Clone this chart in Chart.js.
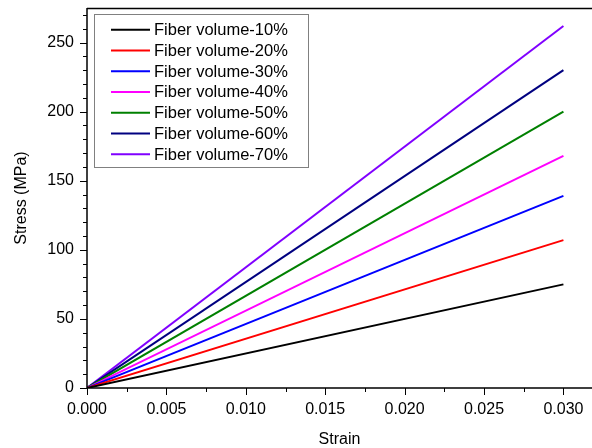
<!DOCTYPE html>
<html>
<head>
<meta charset="utf-8">
<script src="https://cdn.jsdelivr.net/npm/chart.js@4.4.0/dist/chart.umd.min.js"></script>
<style>
  html, body { margin: 0; padding: 0; background: #fff; }
  #wrap { width: 592px; height: 448px; }
</style>
</head>
<body>
<div id="wrap"><canvas id="stressChart"></canvas></div>
<script>
// strain end points, shared by all series
const strain = [0, 0.030];

// stress (MPa) at each strain point, per fibre volume fraction
const vf10 = [0, 75];
const vf20 = [0, 107];
const vf30 = [0, 139];
const vf40 = [0, 168];
const vf50 = [0, 200];
const vf60 = [0, 230];
const vf70 = [0, 262];

const seriesLabels = [
  'Fiber volume-10%', 'Fiber volume-20%', 'Fiber volume-30%', 'Fiber volume-40%',
  'Fiber volume-50%', 'Fiber volume-60%', 'Fiber volume-70%'
];
const seriesColors = ['#000000', '#ff0000', '#0000ff', '#ff00ff', '#008000', '#000080', '#8000ff'];

// axis ticks
const xTicks = [0, 0.005, 0.010, 0.015, 0.020, 0.025, 0.030];
const yTicks = [0, 50, 100, 150, 200, 250];
const xMinorStep = 0.0025;
const yMinorStep = 10;

const FONT = 'Arial, "Liberation Sans", sans-serif';

const seriesValues = [vf10, vf20, vf30, vf40, vf50, vf60, vf70];

const datasets = seriesValues.map((vals, i) => ({
  label: seriesLabels[i],
  data: strain.map((s, j) => ({ x: s, y: vals[j] })),
  borderColor: seriesColors[i],
  backgroundColor: seriesColors[i],
  borderWidth: 2,
  pointRadius: 0,
  fill: false,
  tension: 0
}));

// axis lines, outward ticks (major + minor) and top frame line
const axisFrame = {
  id: 'axisFrame',
  afterDraw(chart) {
    const { ctx, chartArea: a, scales: { x, y } } = chart;
    ctx.save();
    ctx.strokeStyle = '#000';
    ctx.lineWidth = 1.5;
    ctx.beginPath();
    ctx.moveTo(a.left, a.top + 0.5);
    ctx.lineTo(a.right, a.top + 0.5);
    ctx.moveTo(a.left, a.top);
    ctx.lineTo(a.left, a.bottom);
    ctx.lineTo(a.right, a.bottom);
    ctx.stroke();

    ctx.lineWidth = 1;
    ctx.beginPath();
    for (let v = 0; v <= x.max + 1e-9; v += xMinorStep) {
      const px = Math.round(x.getPixelForValue(v)) + 0.5;
      const major = Math.abs(v / 0.005 - Math.round(v / 0.005)) < 1e-6;
      ctx.moveTo(px, a.bottom);
      ctx.lineTo(px, a.bottom + (major ? 7 : 4));
    }
    for (let v = 0; v <= y.max + 1e-9; v += yMinorStep) {
      const py = Math.round(y.getPixelForValue(v)) + 0.5;
      const major = v % 50 === 0;
      ctx.moveTo(a.left, py);
      ctx.lineTo(a.left - (major ? 7 : 4), py);
    }
    ctx.stroke();
    ctx.restore();
  }
};

// boxed legend inside the plot area
const boxLegend = {
  id: 'boxLegend',
  afterDraw(chart) {
    const { ctx } = chart;
    ctx.save();
    ctx.fillStyle = '#fff';
    ctx.fillRect(94.5, 14.5, 214, 153);
    ctx.strokeStyle = '#808080';
    ctx.lineWidth = 1;
    ctx.strokeRect(94.5, 14.5, 214, 153);
    ctx.font = '16.5px ' + FONT;
    ctx.textBaseline = 'middle';
    ctx.fillStyle = '#000';
    chart.data.datasets.forEach((ds, i) => {
      const yy = 29.7 + i * 20.75;
      ctx.strokeStyle = ds.borderColor;
      ctx.lineWidth = 2;
      ctx.beginPath();
      ctx.moveTo(111, yy);
      ctx.lineTo(150, yy);
      ctx.stroke();
      ctx.fillText(ds.label, 154, yy + 1);
    });
    ctx.restore();
  }
};

new Chart(document.getElementById('stressChart'), {
  type: 'line',
  data: { datasets },
  options: {
    responsive: true,
    maintainAspectRatio: false,
    animation: false,
    layout: { padding: { top: 8, right: 0, left: 0, bottom: 0 } },
    plugins: {
      legend: { display: false },
      tooltip: { enabled: false }
    },
    scales: {
      x: {
        type: 'linear',
        min: 0,
        max: 0.0318,
        border: { display: false },
        grid: { display: false, drawTicks: false },
        afterBuildTicks: (scale) => { scale.ticks = xTicks.map(v => ({ value: v })); },
        afterFit: (scale) => {
          scale.height = 60;
          scale.paddingLeft = 0;
          scale.paddingRight = 0;
        },
        ticks: {
          color: '#000',
          padding: 12,
          maxRotation: 0,
          font: { family: FONT, size: 16 },
          callback: (v) => Number(v).toFixed(3)
        },
        title: {
          display: true,
          text: 'Strain',
          color: '#000',
          font: { family: FONT, size: 16 },
          padding: { top: 0, bottom: -1 }
        }
      },
      y: {
        min: 0,
        max: 275,
        border: { display: false },
        grid: { display: false, drawTicks: false },
        afterBuildTicks: (scale) => { scale.ticks = yTicks.map(v => ({ value: v })); },
        afterFit: (scale) => {
          scale.width = 87;
          scale.paddingTop = 0;
          scale.paddingBottom = 0;
        },
        ticks: {
          color: '#000',
          padding: 13,
          font: { family: FONT, size: 16 }
        },
        title: {
          display: true,
          text: 'Stress (MPa)',
          color: '#000',
          font: { family: FONT, size: 16 },
          padding: { top: 12, bottom: 0 }
        }
      }
    }
  },
  plugins: [axisFrame, boxLegend]
});
</script>
</body>
</html>
